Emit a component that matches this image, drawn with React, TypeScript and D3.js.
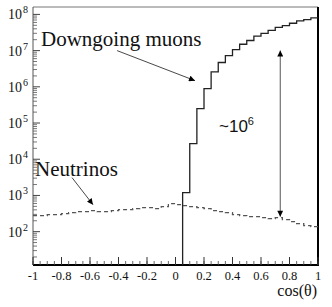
import React from "react";
import * as d3 from "d3";

// histogram binning (cos theta)
const binWidth = 0.05;
const muonStart = 0.05;
const muonCounts = [
  1.2e3, 2.7e4, 2.5e5, 8.9e5, 2.6e6, 4.7e6, 7.3e6, 1.07e7, 1.5e7, 1.9e7,
  2.5e7, 3.0e7, 3.6e7, 4.4e7, 4.9e7, 5.7e7, 6.6e7, 7.2e7, 8.0e7,
];
const nuStart = -1;
const neutrinoCounts = [
  277, 277, 295, 295, 314, 335, 357, 357, 380, 357,
  357, 380, 405, 405, 432, 460, 460, 432, 491, 594,
  557, 523, 491, 460, 432, 380, 357, 335, 295, 277,
  260, 260, 244, 229, 244, 215, 189, 166, 147, 137,
];

const xMajor = [-1, -0.8, -0.6, -0.4, -0.2, 0, 0.2, 0.4, 0.6, 0.8, 1];
const xLabels = ["-1", "-0.8", "-0.6", "-0.4", "-0.2", "0", "0.2", "0.4", "0.6", "0.8", "1"];
const yExponents = [2, 3, 4, 5, 6, 7, 8];

// annotation arrows in data coords [x1, y1, x2, y2]
const muonArrow = [-0.41, 1.0e7, 0.137, 1.48e6];
const nuArrow = [-0.726, 3.1e3, -0.579, 557];
const ratioBin = 34; // bin where the ~10^6 arrow is drawn

const W = 332;
const H = 307;
const left = 33, right = 318, top = 7, bottom = 265;

const serif = { fontFamily: "'Liberation Serif', 'Times New Roman', Times, serif" };
const sans = { fontFamily: "'Liberation Sans', Arial, Helvetica, sans-serif" };

export default function App() {
  const x = d3.scaleLinear().domain([-1, 1]).range([left, right]);
  const y = d3.scaleLog().domain([12, 1.6e8]).range([bottom, top]);

  const step = d3
    .line<[number, number]>()
    .x((d) => x(d[0]))
    .y((d) => d[1])
    .curve(d3.curveStepAfter);

  const muonPts: [number, number][] = [[muonStart, bottom]];
  muonCounts.forEach((v, i) => muonPts.push([muonStart + i * binWidth, y(v)]));
  muonPts.push([1, y(muonCounts[muonCounts.length - 1])]);

  const nuPts: [number, number][] = neutrinoCounts.map((v, i) => [nuStart + i * binWidth, y(v)]);
  nuPts.push([1, y(neutrinoCounts[neutrinoCounts.length - 1])]);

  const xMinor = d3.range(-1, 1.0001, binWidth);
  const yMinor: number[] = [];
  for (let e = 1; e <= 8; e++) {
    for (let m = 2; m <= 9; m++) {
      const v = m * Math.pow(10, e);
      if (v > 12 && v < 1.6e8) yMinor.push(v);
    }
  }

  const ratioX = x(nuStart + ratioBin * binWidth + 0.035);
  const ratioTop = y(muonCounts[ratioBin - 27]) + 1;
  const ratioBot = y(neutrinoCounts[ratioBin]) - 1;

  return (
    <svg width={W} height={H} style={{ position: "absolute", left: 0, top: 0, background: "#fff" }}>
      <defs>
        <marker id="ah" viewBox="0 0 10 10" refX="10" refY="5" markerWidth="7" markerHeight="6"
          markerUnits="userSpaceOnUse" orient="auto-start-reverse">
          <path d="M0,0 L10,5 L0,10 z" fill="#000" />
        </marker>
      </defs>

      {/* frame */}
      <line x1={left} x2={right} y1={top} y2={top} stroke="#777" strokeWidth={1} />
      <line x1={left} x2={left} y1={top} y2={bottom} stroke="#555" strokeWidth={1} />
      <line x1={right} x2={right} y1={top} y2={bottom + 1} stroke="#000" strokeWidth={2} />
      <line x1={left} x2={right + 1} y1={bottom} y2={bottom} stroke="#000" strokeWidth={2} />

      {/* y ticks */}
      {yExponents.map((e) => (
        <line key={"ym" + e} x1={left} x2={left + 7} y1={y(Math.pow(10, e))} y2={y(Math.pow(10, e))} stroke="#444" />
      ))}
      {yMinor.map((v, i) => (
        <line key={"yn" + i} x1={left} x2={left + 4} y1={y(v)} y2={y(v)} stroke="#555" strokeWidth={0.8} />
      ))}
      {yExponents.map((e) => (
        <text key={"yl" + e} y={y(Math.pow(10, e)) + 5} style={serif} fill="#111">
          <tspan x={22} fontSize={14} textAnchor="end">10</tspan>
          <tspan x={23} dy={-6} fontSize={10}>{e}</tspan>
        </text>
      ))}

      {/* x ticks */}
      {xMinor.map((v, i) => (
        <line key={"xn" + i} x1={x(v)} x2={x(v)} y1={bottom} y2={bottom - 4} stroke="#444" strokeWidth={0.8} />
      ))}
      {xMajor.map((v) => (
        <line key={"xm" + v} x1={x(v)} x2={x(v)} y1={bottom} y2={bottom - 8} stroke="#333" />
      ))}
      {xMajor.map((v, i) => (
        <text key={"xl" + v} x={x(v)} y={280} style={serif} fontSize={12.5} textAnchor="middle" fill="#111">
          {xLabels[i]}
        </text>
      ))}
      <text x={317} y={296} style={serif} fontSize={16} textAnchor="end" fill="#111">cos(θ)</text>

      {/* histograms */}
      <path d={step(nuPts) || ""} fill="none" stroke="#555" strokeWidth={1.3} strokeDasharray="4 3" />
      <path d={step(muonPts) || ""} fill="none" stroke="#222" strokeWidth={1.3} />

      {/* annotations */}
      <text x={41} y={46} style={serif} fontSize={21} fill="#111">Downgoing muons</text>
      <line x1={x(muonArrow[0])} y1={y(muonArrow[1])} x2={x(muonArrow[2])} y2={y(muonArrow[3])}
        stroke="#333" strokeWidth={0.9} markerEnd="url(#ah)" />
      <text x={35} y={176} style={serif} fontSize={21} fill="#111">Neutrinos</text>
      <line x1={x(nuArrow[0])} y1={y(nuArrow[1])} x2={x(nuArrow[2])} y2={y(nuArrow[3])}
        stroke="#333" strokeWidth={0.9} markerEnd="url(#ah)" />
      <line x1={ratioX} x2={ratioX} y1={ratioBot} y2={ratioTop} stroke="#555" strokeWidth={1}
        markerStart="url(#ah)" markerEnd="url(#ah)" />
      <text x={219} y={132} style={sans} fill="#111">
        <tspan fontSize={17}>~10</tspan>
        <tspan fontSize={11} dy={-7}>6</tspan>
      </text>
    </svg>
  );
}
